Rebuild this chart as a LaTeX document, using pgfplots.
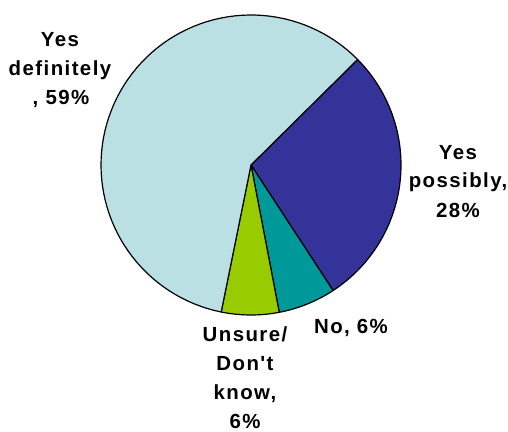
\documentclass[border=0pt]{standalone}
\usepackage{pgfplots}
\pgfplotsset{compat=1.18}
\usepackage{pgfplotstable}
\usepackage{fontspec}
\setmainfont{Liberation Sans}
\newfontfamily\labfont[LetterSpace=7]{Liberation Sans}
\definecolor{definitely}{HTML}{BBE0E3}
\definecolor{possibly}{HTML}{333399}
\definecolor{no}{HTML}{009999}
\definecolor{unsure}{HTML}{99CC00}
\pgfplotstableread{
pct col
28.2 possibly
6.2 no
6.2 unsure
59.4 definitely
}\piedata
\begin{document}
\begin{tikzpicture}[lab/.style={font={\labfont\bfseries\fontsize{20.5}{24}\selectfont}, anchor=base, inner sep=0pt}]
\useasboundingbox (0,0) rectangle (508bp,432bp);
\begin{axis}[
  at={(0,0)}, anchor=south west,
  scale only axis, width=508bp, height=432bp,
  xmin=0, xmax=508, ymin=0, ymax=432,
  hide axis, clip=false,
]
\def\startang{44.7}
\pgfplotsforeachungrouped \i in {0,...,3} {
  \pgfplotstablegetelem{\i}{pct}\of\piedata \let\p=\pgfplotsretval
  \pgfplotstablegetelem{\i}{col}\of\piedata \let\c=\pgfplotsretval
  \pgfmathsetmacro\endang{\startang-3.6*\p}
  \edef\temp{\noexpand\addplot[fill=\c, draw=black, line width=1.2pt, line join=round, domain=\endang:\startang, samples=80] ({251+150*cos(x)},{267+150*sin(x)}) -- (axis cs:251,267) -- cycle;}
  \temp
  \global\let\startang\endang
}
% labels
\node[lab] at (axis cs:60,385) {Yes};
\node[lab] at (axis cs:60,356) {definitely};
\node[lab] at (axis cs:61,327) {, 59\%};
\node[lab] at (axis cs:458,272) {Yes};
\node[lab] at (axis cs:458,244) {possibly,};
\node[lab] at (axis cs:458,214) {28\%};
\node[lab] at (axis cs:351,98) {No, 6\%};
\node[lab] at (axis cs:245,90) {Unsure/};
\node[lab] at (axis cs:245,61) {Don't};
\node[lab] at (axis cs:245,32) {know,};
\node[lab] at (axis cs:245,4) {6\%};
\end{axis}
\end{tikzpicture}
\end{document}
